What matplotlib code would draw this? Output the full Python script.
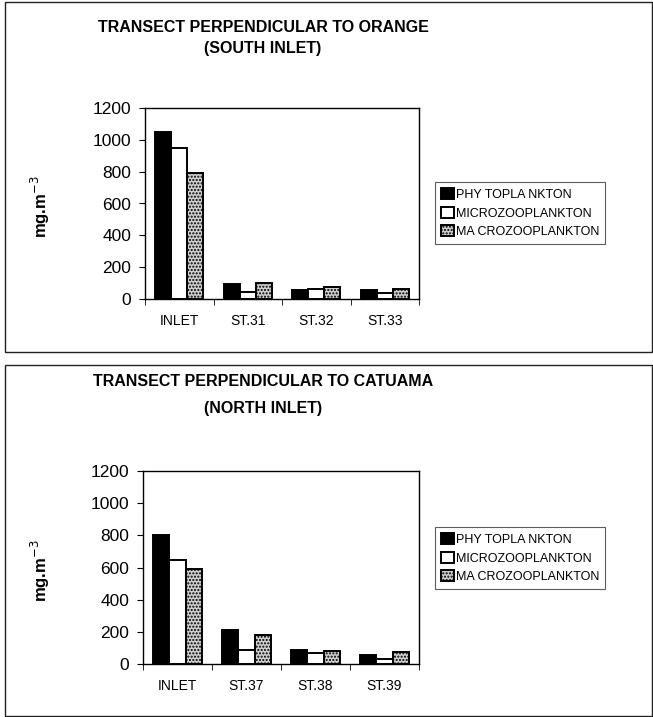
import numpy as np
import matplotlib.pyplot as plt
from matplotlib.patches import Rectangle

plt.rcParams['font.family'] = ['Liberation Sans', 'DejaVu Sans']

# data (mg.m-3)
series = ["PHYTOPLANKTON", "MICROZOOPLANKTON", "MACROZOOPLANKTON"]
legend_labels = ["PHY TOPLA NKTON", "MICROZOOPLANKTON", "MA CROZOOPLANKTON"]

south_stations = ["INLET", "ST.31", "ST.32", "ST.33"]
south_phyto = [1050, 92, 54, 56]
south_micro = [950, 46, 63, 36]
south_macro = [790, 100, 74, 61]

north_stations = ["INLET", "ST.37", "ST.38", "ST.39"]
north_phyto = [800, 212, 84, 53]
north_micro = [648, 88, 68, 28]
north_macro = [588, 182, 78, 72]

yticks = [0, 200, 400, 600, 800, 1000, 1200]

W, H = 653, 717
fig = plt.figure(figsize=(W / 100, H / 100), dpi=100)


def fx(px):
    return px / W


def fy(py):
    return 1 - py / H


styles = [
    dict(facecolor="black", edgecolor="black"),
    dict(facecolor="white", edgecolor="black"),
    dict(facecolor="#cfcfcf", edgecolor="black", hatch="....."),
]


def panel(box, ax_box, title_lines, title_y, stations, values, legend_top):
    # outer frame of the panel
    x0, y0, x1, y1 = box
    fig.patches.append(Rectangle((fx(x0), fy(y1)), fx(x1 - x0), fy(y0) - fy(y1),
                                 transform=fig.transFigure, fill=False,
                                 edgecolor="#222222", linewidth=1.0))
    for line, ty in zip(title_lines, title_y):
        fig.text(fx(263), fy(ty), line, ha="center", va="center",
                 fontsize=11.5, fontweight="bold")

    l, t, r, b = ax_box
    ax = fig.add_axes([fx(l), fy(b), fx(r - l), fy(t) - fy(b)])
    x = np.arange(len(stations))
    w = 0.235
    handles = []
    for i, vals in enumerate(values):
        bars = ax.bar(x + (i - 1) * w, vals, width=w, linewidth=1.4, **styles[i])
        handles.append(bars)
    ax.set_xlim(-0.5, len(stations) - 0.5)
    ax.set_ylim(0, 1200)
    ax.set_yticks(yticks)
    ax.set_yticklabels([str(v) for v in yticks], fontsize=12.5)
    ax.set_xticks(x)
    ax.set_xticklabels(stations, fontsize=10)
    ax.tick_params(axis="x", length=0, pad=11)
    ax.set_xticks(np.arange(len(stations) + 1) - 0.5, minor=True)
    ax.tick_params(axis="x", which="minor", length=4, direction="out")
    ax.tick_params(axis="y", length=4, direction="out", pad=6)
    for s in ax.spines.values():
        s.set_linewidth(1.0)
    fig.text(fx(40), (fy(t) + fy(b)) / 2 - 0.004, "mg.m$^{-3}$", rotation=90,
             ha="center", va="center", fontsize=12, fontweight="bold")
    leg = fig.legend(handles, legend_labels, loc="upper left",
                     bbox_to_anchor=(fx(435), fy(legend_top)),
                     bbox_transform=fig.transFigure, fontsize=9,
                     handlelength=1.0, handleheight=1.0, handletextpad=0.15,
                     labelspacing=0.45, borderpad=0.5, fancybox=False,
                     borderaxespad=0)
    leg.get_frame().set_edgecolor("#333333")
    leg.get_frame().set_linewidth(0.8)
    return ax


panel((5, 2, 652, 352), (145, 108, 419, 299),
      ["TRANSECT PERPENDICULAR TO ORANGE", "(SOUTH INLET)"], [27, 49],
      south_stations, [south_phyto, south_micro, south_macro], 182)

panel((5, 365, 652, 716), (143, 471, 419, 664),
      ["TRANSECT PERPENDICULAR TO CATUAMA", "(NORTH INLET)"], [382, 409],
      north_stations, [north_phyto, north_micro, north_macro], 527)

fig.savefig("out.png", dpi=100)
